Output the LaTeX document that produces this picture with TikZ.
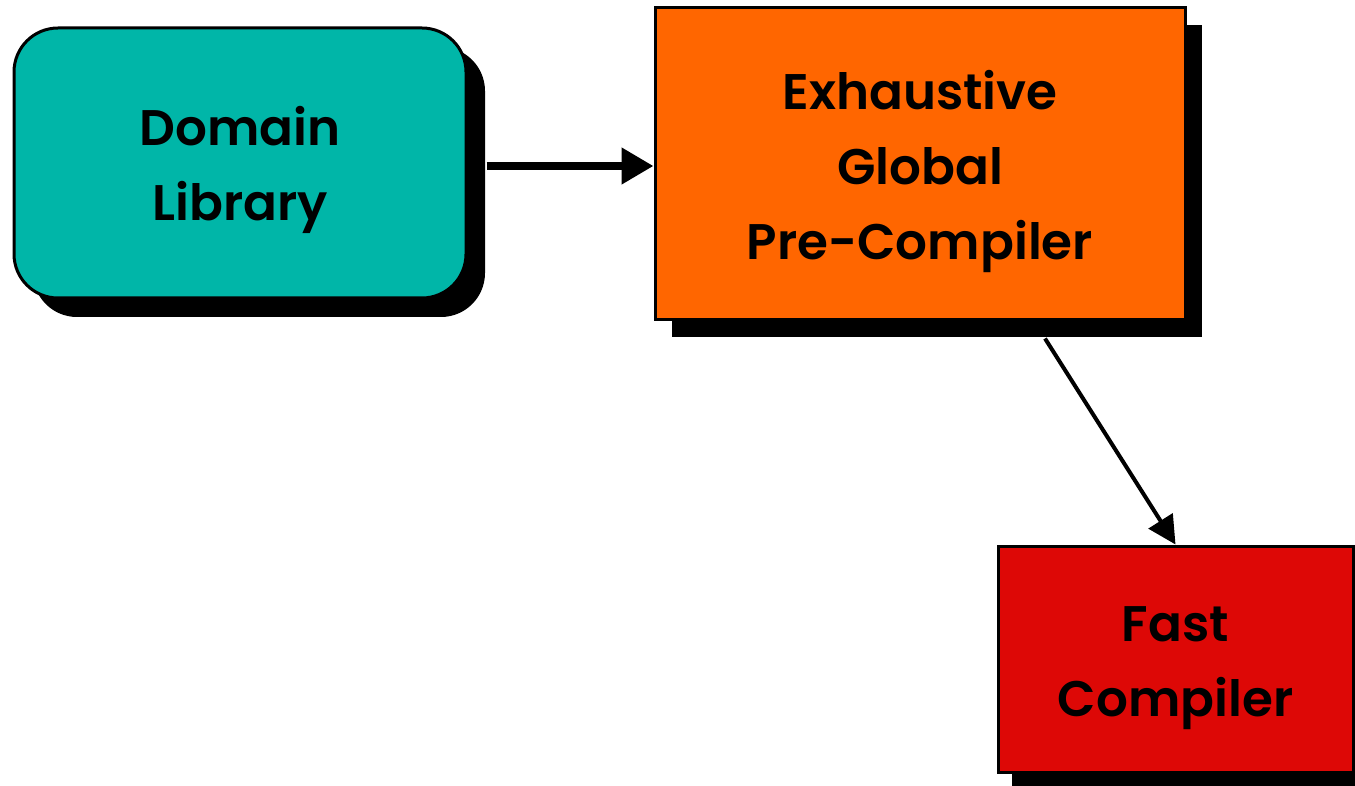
\documentclass[tikz,border=0pt]{standalone}
\usepackage{fontspec}
\setmainfont{Poppins}[BoldFont={Poppins SemiBold}]
\usetikzlibrary{shadows,arrows.meta}
\definecolor{libteal}{RGB}{0,182,168}
\definecolor{preorange}{RGB}{255,102,0}
\definecolor{fastred}{RGB}{221,8,6}
\newcommand{\toplift}{\rule{0pt}{27pt}}
\begin{document}
\begin{tikzpicture}[x=0.5pt,y=-0.5pt,
	box/.style={draw=black,line width=1.5pt,align=center,inner sep=0pt,
		font=\fontsize{25}{37.5}\selectfont\bfseries},
	shade/.style={drop shadow={shadow xshift=#1,shadow yshift=-#1,opacity=1,fill=black}}]
	\useasboundingbox (0,0) rectangle (1355,786);
	\node[box,shade=9.5pt,fill=libteal,rounded corners=22pt,minimum width=226pt,minimum height=135pt] (lib) at (240,163) {\toplift Domain\\Library};
	\node[box,shade=8.5pt,fill=preorange,minimum width=265pt,minimum height=156pt] (pre) at (920,164) {\toplift Exhaustive\\Global\\Pre-Compiler};
	\node[box,shade=7pt,fill=fastred,minimum width=177.5pt,minimum height=113pt] (fast) at (1175.5,659) {\toplift Fast\\Compiler};
	\draw[line width=3.8pt,-{Triangle[length=16pt,width=17.5pt]}] ([xshift=9.5pt,yshift=-1.5pt]lib.east) -- ([yshift=-1pt]pre.west);
	\draw[line width=2pt,-{Triangle[length=14pt,width=14pt]}] ([xshift=62.5pt,yshift=-8.5pt]pre.south) -- (fast.north);
\end{tikzpicture}
\end{document}
